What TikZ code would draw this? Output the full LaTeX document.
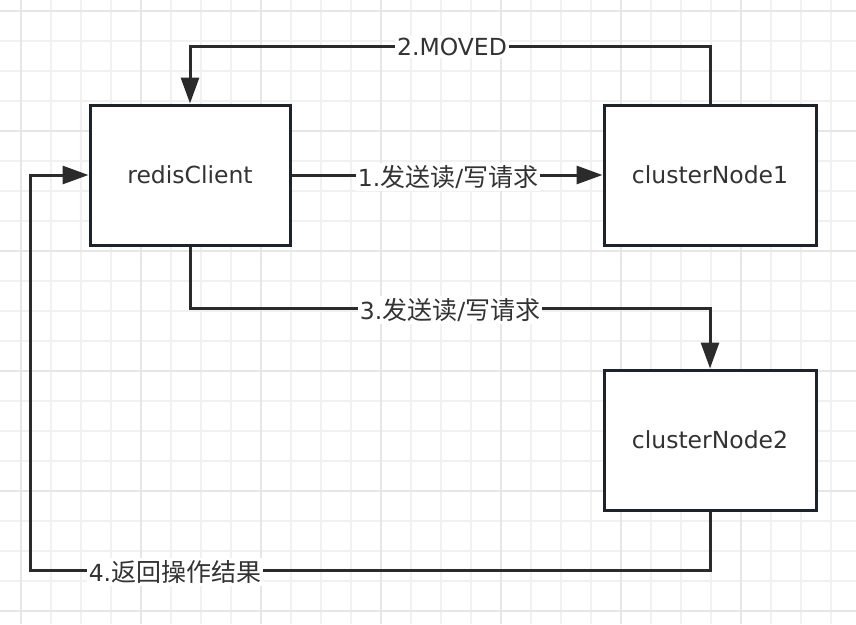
\documentclass[tikz,border=0pt]{standalone}
\usepackage{fontspec}
\setmainfont{DejaVu Sans}
\newfontfamily\cjk{Noto Sans CJK SC}
\usetikzlibrary{arrows.meta}
\definecolor{linec}{HTML}{2B2B2B}
\definecolor{boxc}{HTML}{1C232B}
\definecolor{txt}{HTML}{333333}
\definecolor{gridminor}{HTML}{F1F1F1}
\definecolor{gridmajor}{HTML}{E6E6E6}
\newcommand{\zh}[1]{{\cjk\fontsize{25}{28}\selectfont #1}}
\tikzset{
  box/.style={draw=boxc, line width=3pt, fill=white, minimum width=#1, minimum height=140pt, inner sep=0pt, text=txt, font=\fontsize{23.5}{28}\selectfont},
  conn/.style={draw=linec, line width=3pt, -{Triangle[length=26pt,width=18pt]}},
  plain/.style={draw=linec, line width=3pt},
  lbl/.style={fill=white, inner sep=2pt, text=txt, font=\fontsize{23.5}{28}\selectfont}
}
\begin{document}
\begin{tikzpicture}[x=1pt,y=-1pt]
\useasboundingbox (0,0) rectangle (856,624);
\fill[white] (0,0) rectangle (856,624);
% grid
\foreach \k in {0,...,27}{
  \pgfmathsetmacro{\xx}{21+30*\k}
  \draw[gridminor, line width=1.5pt] (\xx,0) -- (\xx,624);
}
\foreach \k in {0,...,20}{
  \pgfmathsetmacro{\yy}{11+30*\k}
  \draw[gridminor, line width=1.5pt] (0,\yy) -- (856,\yy);
}
\foreach \xx in {21,141,261,381,501,621,741}{
  \draw[gridmajor, line width=1.5pt] (\xx,0) -- (\xx,624);
}
\foreach \yy in {11,131,251,371,491,611}{
  \draw[gridmajor, line width=1.5pt] (0,\yy) -- (856,\yy);
}
% nodes
\node[box=200pt] (rc) at (190,175) {redisClient};
\node[box=212pt] (n1) at (710,175) {clusterNode1};
\node[box=212pt] (n2) at (710,440) {clusterNode2};
% corner coordinates
\coordinate (c2) at (450,46);
\coordinate (c3) at (450,308);
\coordinate (c4a) at (710,570);
\coordinate (c4b) at (30,570);
% connectors
\draw[conn] (rc.east) -- (n1.west);
\draw[conn] (n1.north) |- (c2) -| (rc.north);
\draw[conn] (rc.south) |- (c3) -| (n2.north);
\draw[conn] (n2.south) -- (c4a) -- (c4b) |- (rc.west);
% labels
\node[lbl] (l1) at (448,177) {1.\zh{发送读}/\zh{写请求}};
\node[lbl] (l2) at (452,47) {2.MOVED};
\node[lbl] (l3) at (450,310) {3.\zh{发送读}/\zh{写请求}};
\node[lbl] (l4) at (175,572) {4.\zh{返回操作结果}};
\end{tikzpicture}
\end{document}
